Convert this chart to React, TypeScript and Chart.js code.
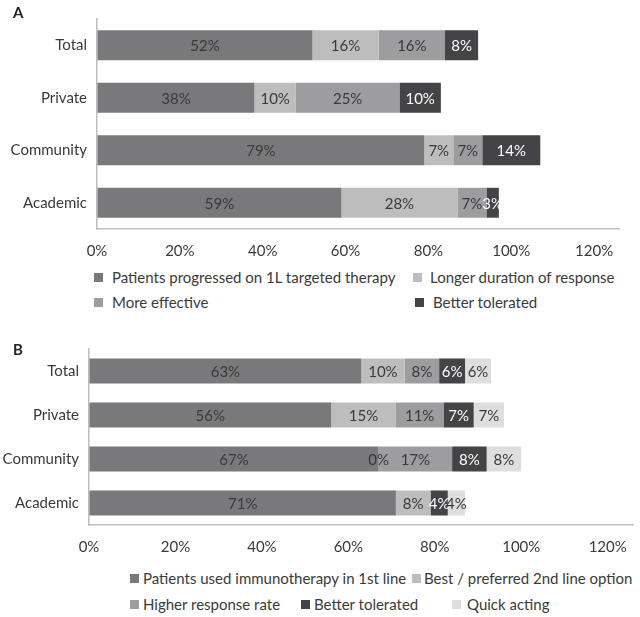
import React, { useEffect, useRef } from 'react';
import { Chart, registerables } from 'chart.js';

Chart.register(...registerables);

// ---------- data ----------
const categories = ['Total', 'Private', 'Community', 'Academic'];
const xTickValues = [0, 20, 40, 60, 80, 100, 120];

// Panel A
const aLabels = [
  'Patients progressed on 1L targeted therapy',
  'Longer duration of response',
  'More effective',
  'Better tolerated',
];
const aProgressed = [52, 38, 79, 59];
const aLongerDuration = [16, 10, 7, 28];
const aMoreEffective = [16, 25, 7, 7];
const aBetterTolerated = [8, 10, 14, 3];

// Panel B
const bLabels = [
  'Patients used immunotherapy in 1st line',
  'Best / preferred 2nd line option',
  'Higher response rate',
  'Better tolerated',
  'Quick acting',
];
const bUsedIO = [63, 56, 67, 71];
const bBestOption = [10, 15, 0, 8];
const bHigherResponse = [8, 11, 17, null];
const bBetterTolerated = [6, 7, 8, 4];
const bQuickActing = [6, 7, 8, 4];

// ---------- styles ----------
const FONT = 'Lato';
const C1 = '#79797b';
const C2 = '#bdbdbd';
const C3 = '#9d9d9f';
const C4 = '#444446';
const C5 = '#dedede';
const DARK_TEXT = '#3a3a3a';
const AXIS_COLOR = '#bdbdbd';

const segLabels = {
  id: 'segLabels',
  afterDatasetsDraw(chart: any) {
    const ctx = chart.ctx;
    ctx.save();
    ctx.font = `15px ${FONT}`;
    ctx.textAlign = 'center';
    ctx.textBaseline = 'middle';
    chart.data.datasets.forEach((ds: any, i: number) => {
      const meta = chart.getDatasetMeta(i);
      meta.data.forEach((bar: any, j: number) => {
        const v = ds.data[j];
        if (v === null || v === undefined) return;
        const x = (bar.x + bar.base) / 2;
        ctx.fillStyle = ds.labelColor || DARK_TEXT;
        ctx.fillText(`${v}%`, x, bar.y + 1);
      });
    });
    ctx.restore();
  },
};

function makeConfig(
  datasets: any[],
  yWidth: number,
  xHeight: number,
  padding: any,
  tickPad: number
) {
  return {
    type: 'bar',
    data: { labels: categories, datasets },
    plugins: [segLabels],
    options: {
      indexAxis: 'y',
      responsive: false,
      animation: false,
      devicePixelRatio: 1,
      layout: { padding },
      plugins: { legend: { display: false }, tooltip: { enabled: false } },
      datasets: { bar: { barPercentage: 0.57, categoryPercentage: 1 } },
      scales: {
        x: {
          stacked: true,
          min: 0,
          max: 126,
          afterBuildTicks: (s: any) => {
            s.ticks = xTickValues.map((v) => ({ value: v }));
          },
          afterFit: (s: any) => {
            s.height = xHeight;
          },
          grid: { display: true, drawOnChartArea: false, drawTicks: false },
          border: { display: true, color: AXIS_COLOR, width: 1.5 },
          ticks: {
            padding: tickPad,
            color: DARK_TEXT,
            font: { family: FONT, size: 15 },
            callback: (v: any) => `${v}%`,
          },
        },
        y: {
          stacked: true,
          afterFit: (s: any) => {
            s.width = yWidth;
          },
          grid: { display: true, drawOnChartArea: false, drawTicks: false },
          border: { display: true, color: AXIS_COLOR, width: 1.5 },
          ticks: {
            padding: 10,
            color: DARK_TEXT,
            font: { family: FONT, size: 15 },
          },
        },
      },
    },
  };
}

function ChartCanvas({ config, width, height, style }: any) {
  const ref = useRef<HTMLCanvasElement | null>(null);
  useEffect(() => {
    if (!ref.current) return;
    const chart = new Chart(ref.current, config);
    return () => chart.destroy();
  }, []);
  return <canvas ref={ref} width={width} height={height} style={{ position: 'absolute', ...style }} />;
}

function LegendItem({ color, label, markerX, textX, y }: any) {
  return (
    <>
      <div
        style={{
          position: 'absolute',
          left: markerX,
          top: y - 4,
          width: 9,
          height: 9,
          background: color,
        }}
      />
      <div
        style={{
          position: 'absolute',
          left: textX,
          top: y - 10,
          height: 20,
          lineHeight: '20px',
          fontFamily: FONT,
          fontSize: 15,
          color: DARK_TEXT,
          whiteSpace: 'nowrap',
        }}
      >
        {label}
      </div>
    </>
  );
}

export default function App() {
  const aDatasets = [
    { label: aLabels[0], data: aProgressed, backgroundColor: C1 },
    { label: aLabels[1], data: aLongerDuration, backgroundColor: C2 },
    { label: aLabels[2], data: aMoreEffective, backgroundColor: C3 },
    { label: aLabels[3], data: aBetterTolerated, backgroundColor: C4, labelColor: '#ffffff' },
  ];
  const bDatasets = [
    { label: bLabels[0], data: bUsedIO, backgroundColor: C1 },
    { label: bLabels[1], data: bBestOption, backgroundColor: C2 },
    { label: bLabels[2], data: bHigherResponse, backgroundColor: C3 },
    { label: bLabels[3], data: bBetterTolerated, backgroundColor: C4, labelColor: '#ffffff' },
    { label: bLabels[4], data: bQuickActing, backgroundColor: C5 },
  ];

  const configA = makeConfig(aDatasets, 97, 36, { top: 3, right: 21, left: 0, bottom: 0 }, 13);
  const configB = makeConfig(bDatasets, 89, 35, { top: 12, right: 5, left: 0, bottom: 0 }, 13);

  const aColors = [C1, C2, C3, C4];
  const bColors = [C1, C2, C3, C4, C5];

  const aLegendPos = [
    { markerX: 94, textX: 112, y: 277 },
    { markerX: 413, textX: 430, y: 277 },
    { markerX: 94, textX: 112, y: 302 },
    { markerX: 415, textX: 433, y: 302 },
  ];
  const bLegendPos = [
    { markerX: 130, textX: 143, y: 578 },
    { markerX: 412, textX: 424, y: 578 },
    { markerX: 130, textX: 143, y: 604 },
    { markerX: 301, textX: 314, y: 604 },
    { markerX: 452, textX: 467, y: 604 },
  ];

  const panelLetter = (text: string, top: number) => (
    <div
      style={{
        position: 'absolute',
        left: 13,
        top,
        fontFamily: FONT,
        fontWeight: 'bold',
        fontSize: 15,
        lineHeight: '15px',
        color: '#222',
      }}
    >
      {text}
    </div>
  );

  return (
    <div
      style={{
        position: 'fixed',
        left: 0,
        top: 0,
        width: 640,
        height: 617,
        background: '#ffffff',
        overflow: 'hidden',
      }}
    >
      <ChartCanvas config={configA} width={640} height={265} style={{ left: 0, top: 0 }} />
      <ChartCanvas config={configB} width={640} height={230} style={{ left: 0, top: 330 }} />
      {panelLetter('A', 5)}
      {panelLetter('B', 342)}
      {aLabels.map((l, i) => (
        <LegendItem key={'a' + i} color={aColors[i]} label={l} {...aLegendPos[i]} />
      ))}
      {bLabels.map((l, i) => (
        <LegendItem key={'b' + i} color={bColors[i]} label={l} {...bLegendPos[i]} />
      ))}
    </div>
  );
}
